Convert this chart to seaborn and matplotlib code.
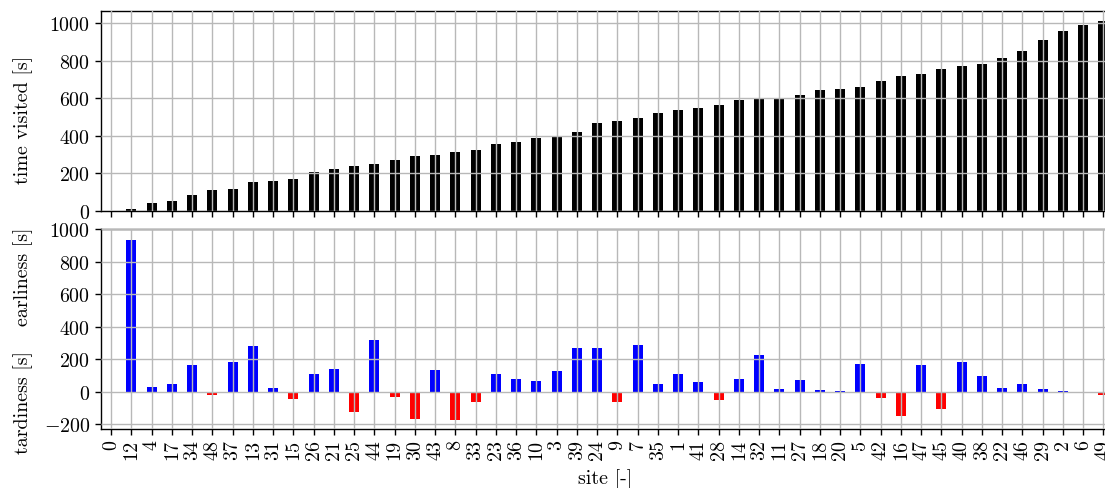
import matplotlib
matplotlib.use("Agg")
import matplotlib.pyplot as plt
import numpy as np
import pandas as pd
import seaborn as sns

# Site visiting order and timing results
sites = [0, 12, 4, 17, 34, 48, 37, 13, 31, 15, 26, 21, 25, 44, 19, 30, 43, 8, 33, 23,
         36, 10, 3, 39, 24, 9, 7, 35, 1, 41, 28, 14, 32, 11, 27, 18, 20, 5, 42, 16,
         47, 45, 40, 38, 22, 46, 29, 2, 6, 49]

time_visited = [0, 11, 43, 53, 85, 112, 117, 155, 160, 171, 208, 224, 240, 250, 272, 293,
                298, 314, 325, 357, 368, 389, 396, 421, 469, 480, 496, 522, 538, 549,
                565, 591, 597, 598, 618, 645, 650, 661, 693, 719, 730, 757, 773, 783,
                815, 853, 911, 959, 991, 1012]

# positive = earliness, negative = tardiness
slack = [0, 931, 29, 47, 164, -18, 182, 280, 22, -45, 108, 139, -123, 317, -31, -168,
         133, -172, -61, 108, 78, 65, 127, 268, 268, -67, 286, 47, 108, 59, -49, 78,
         225, 16, 72, 10, 4, 170, -37, -153, 164, -104, 182, 96, 22, 47, 16, 4, -10, -18]

plt.rcParams.update({
    "font.family": "cmr10",
    "mathtext.fontset": "cm",
    "axes.formatter.use_mathtext": True,
    "font.size": 14.4,
    "axes.linewidth": 1.0,
    "grid.color": "#b8b8b8",
    "grid.linewidth": 1.0,
})

order = [str(s) for s in sites]
df = pd.DataFrame({
    "site": order,
    "time": time_visited,
    "slack": slack,
})
df["kind"] = np.where(df["slack"] >= 0, "early", "late")

fig = plt.figure(figsize=(11.05, 4.89), dpi=100)
W, H = 1105.0, 489.0
left = 101 / W
width = 1012.5 / W
ax_top = fig.add_axes([left, 1 - 212 / H, width, 200 / H])
ax_bot = fig.add_axes([left, 1 - 429.5 / H, width, 199.5 / H])

sns.barplot(data=df, x="site", y="time", order=order, color="black",
            width=0.5, saturation=1, linewidth=0, ax=ax_top)
sns.barplot(data=df, x="site", y="slack", order=order, hue="kind",
            palette={"early": "blue", "late": "red"}, dodge=False, legend=False,
            width=0.5, saturation=1, linewidth=0, ax=ax_bot)

for ax in (ax_top, ax_bot):
    ax.set_xlim(-0.5, 49.5)
    ax.grid(True, axis="both")
    ax.set_axisbelow(False)
    ax.set_xlabel("")
    ax.set_ylabel("")
    ax.spines["right"].set_visible(False)
    ax.tick_params(direction="out", length=4, width=1.0, labelsize=14.4)

ax_top.set_ylim(0, 1065)
ax_top.set_yticks(np.arange(0, 1001, 200))
ax_top.tick_params(axis="x", labelbottom=False)

ax_bot.set_ylim(-227, 1000)
ax_bot.set_yticks(np.arange(-200, 1001, 200))
ax_bot.set_xticks(range(len(order)))
ax_bot.set_xticklabels(order, rotation=90)

fig.text(23.5 / W, 1 - 120 / H, "time visited [s]", rotation=90,
         ha="center", va="center", fontsize=14.4)
fig.text(23.5 / W, 1 - 277 / H, "earliness [s]", rotation=90,
         ha="center", va="center", fontsize=14.4)
fig.text(23.5 / W, 1 - 402 / H, "tardiness [s]", rotation=90,
         ha="center", va="center", fontsize=14.4)
fig.text(605 / W, 1 - 479 / H, "site [-]", ha="center", va="center", fontsize=14.4)

fig.savefig("out.png", dpi=100)
